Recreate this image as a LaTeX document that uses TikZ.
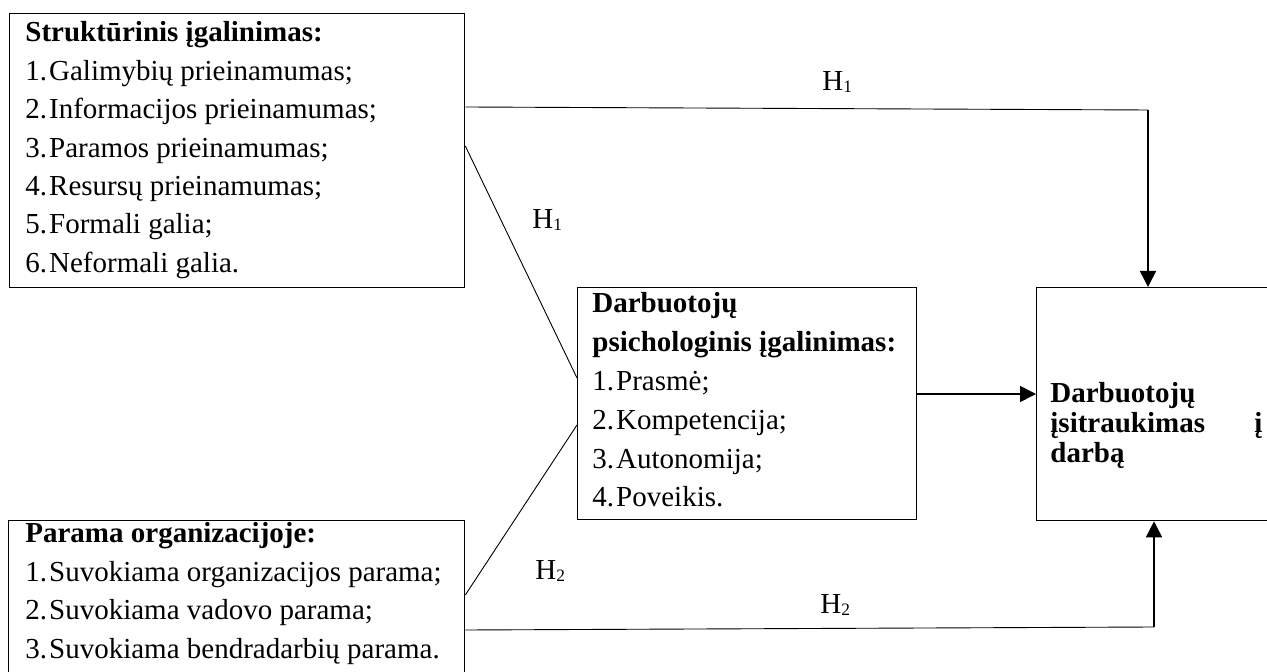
\documentclass[tikz,border=0pt]{standalone}
\usepackage{fontspec}
\setmainfont{Liberation Serif}
\usetikzlibrary{arrows.meta}

% a block of text lines whose first baseline is the box baseline
\newcommand\linestack[2]{\vtop{\hsize=#1\parindent=0pt\parskip=0pt\relax#2}}
% list number with a fixed width
\newcommand\itemno[1]{\makebox[0.82em][l]{#1}}
% hypothesis name with a small lowered index
\newcommand\hyp[1]{H\raisebox{-1pt}{\fontsize{8.7}{10}\selectfont #1}}

\tikzset{
  frame/.style={draw, line width=0.65pt, inner sep=0pt, anchor=north west},
  listtext/.style={anchor=base west, inner sep=0pt, font=\fontsize{14.5}{19.2}\selectfont},
  tighttext/.style={anchor=base west, inner sep=0pt, font=\fontsize{14.5}{15}\selectfont\bfseries},
  hlabel/.style={anchor=base west, inner sep=0pt, font=\fontsize{14.5}{16}\selectfont},
  link/.style={line width=0.45pt},
  arr/.style={line width=0.8pt, -{Triangle[length=8pt,width=8pt]}},
}

\begin{document}
\begin{tikzpicture}[x=0.5pt, y=-0.5pt]
  \useasboundingbox (0,0) rectangle (1267,672);
  \clip (0,0) rectangle (1267,672);

  % boxes
  \node[frame, minimum width=227.5pt, minimum height=137pt] (struct) at (9,13) {};
  \node[frame, minimum width=169.5pt, minimum height=116pt] (psy) at (577,287) {};
  \node[frame, minimum width=127pt, minimum height=116.5pt] (eng) at (1036,287) {};
  \node[frame, minimum width=228pt, minimum height=90pt] (org) at (8,520) {};

  % box texts
  \node[listtext] (structtxt) at (25,42) {\linestack{300pt}{%
    \textbf{Struktūrinis įgalinimas:}\par
    \itemno{1.}Galimybių prieinamumas;\par
    \itemno{2.}Informacijos prieinamumas;\par
    \itemno{3.}Paramos prieinamumas;\par
    \itemno{4.}Resursų prieinamumas;\par
    \itemno{5.}Formali galia;\par
    \itemno{6.}Neformali galia.}};

  \node[listtext, font=\fontsize{14.5}{19.4}\selectfont] (psytxt) at (592,313) {\linestack{300pt}{%
    \textbf{Darbuotojų}\par
    \textbf{psichologinis įgalinimas:}\par
    \itemno{1.}Prasmė;\par
    \itemno{2.}Kompetencija;\par
    \itemno{3.}Autonomija;\par
    \itemno{4.}Poveikis.}};

  \node[tighttext] (engtxt) at (1050,403) {\linestack{106pt}{%
    Darbuotojų\par
    įsitraukimas\hfill į\par
    darbą}};

  \node[listtext] (orgtxt) at (25,543) {\linestack{300pt}{%
    \textbf{Parama organizacijoje:}\par
    \itemno{1.}Suvokiama organizacijos parama;\par
    \itemno{2.}Suvokiama vadovo parama;\par
    \itemno{3.}Suvokiama bendradarbių parama.}};

  % connector end points on the box edges
  \coordinate (a1) at ([yshift=-47pt]struct.north east);
  \coordinate (a2) at ([yshift=-66.5pt]struct.north east);
  \coordinate (b1) at ([yshift=-37.5pt]org.north east);
  \coordinate (b2) at ([yshift=-55pt]org.north east);
  \coordinate (m1) at ([yshift=-45.5pt]psy.north west);
  \coordinate (m2) at ([yshift=-69pt]psy.north west);
  \coordinate (m3) at ([yshift=-53.5pt]psy.north east);
  \coordinate (t1) at (1148,110);
  \coordinate (t2) at (1154,627);

  % connectors
  \draw[link] (a1) -- (t1);
  \draw[arr] (t1) -- (t1 |- eng.north);
  \draw[link] (a2) -- (m1);
  \draw[link] (b1) -- (m2);
  \draw[arr] (m3) -- (m3 -| eng.west);
  \draw[link] (b2) -- (t2);
  \draw[arr] (t2) -- (t2 |- eng.south);

  % hypothesis labels
  \node[hlabel] (h1top) at (822,91) {\hyp{1}};
  \node[hlabel] (h1mid) at (532,229) {\hyp{1}};
  \node[hlabel] (h2mid) at (535,580) {\hyp{2}};
  \node[hlabel] (h2low) at (820,613) {\hyp{2}};
\end{tikzpicture}
\end{document}
